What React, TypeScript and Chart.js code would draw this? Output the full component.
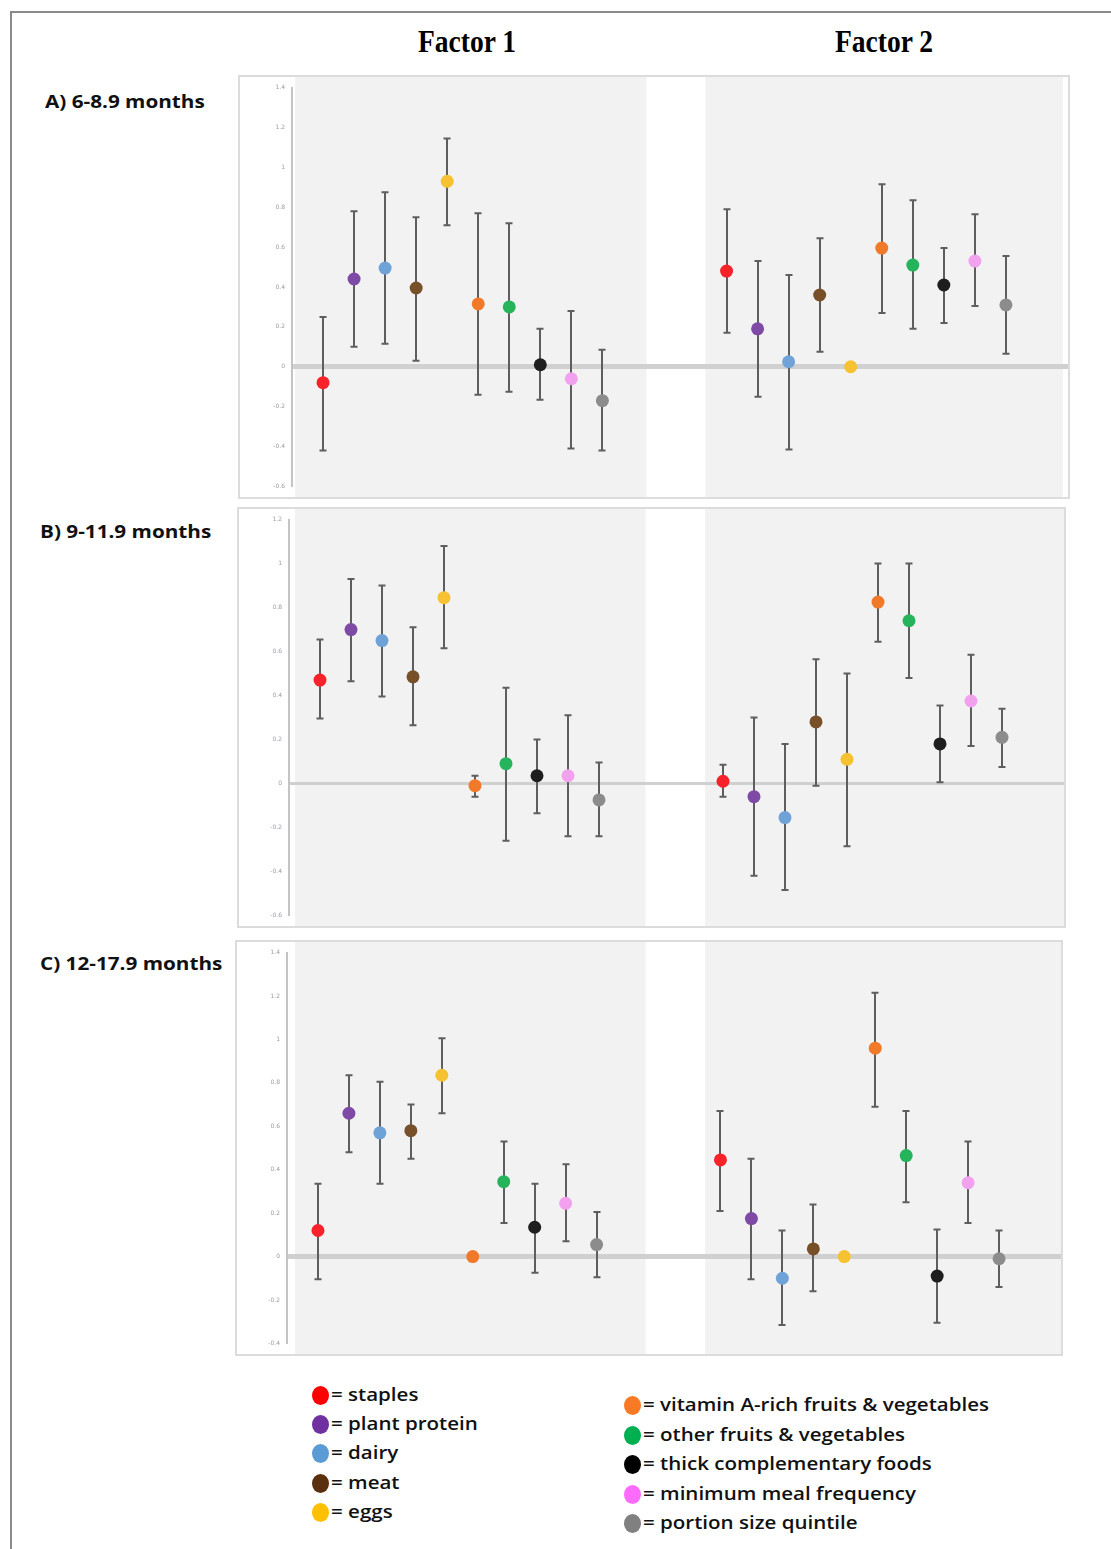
import React, { useEffect, useRef } from 'react';
import { Chart, registerables } from 'chart.js';

Chart.register(...registerables);

// ---------- data ----------
const categories = [
  'staples',
  'plant protein',
  'dairy',
  'meat',
  'eggs',
  'vitamin A-rich fruits & vegetables',
  'other fruits & vegetables',
  'thick complementary foods',
  'minimum meal frequency',
  'portion size quintile',
];
const pointColors = ['#f8232a', '#7f4aa6', '#6fa3d8', '#77502a', '#f6c231', '#f07a2a', '#25b35c', '#1e1e1e', '#f2a1ee', '#8c8c8c'];
const legendColors = ['#ff0000', '#7030a0', '#5b9bd5', '#5a300e', '#ffc000', '#f97a24', '#00b050', '#000000', '#ff6bff', '#808080'];
const factorTitles = ['Factor 1', 'Factor 2'];
const panelLabels = ['A) 6-8.9 months', 'B) 9-11.9 months', 'C) 12-17.9 months'];

const ticksA = [1.4, 1.2, 1, 0.8, 0.6, 0.4, 0.2, 0, -0.2, -0.4, -0.6];
const ticksB = [1.2, 1, 0.8, 0.6, 0.4, 0.2, 0, -0.2, -0.4, -0.6];
const ticksC = [1.4, 1.2, 1, 0.8, 0.6, 0.4, 0.2, 0, -0.2, -0.4];

// Panel A (6-8.9 months)
const aF1Mean = [-0.08, 0.44, 0.495, 0.395, 0.93, 0.315, 0.3, 0.01, -0.06, -0.17];
const aF1Low = [-0.42, 0.1, 0.115, 0.03, 0.71, -0.14, -0.125, -0.165, -0.41, -0.42];
const aF1High = [0.25, 0.78, 0.875, 0.75, 1.145, 0.77, 0.72, 0.19, 0.28, 0.085];
const aF2Mean = [0.48, 0.19, 0.025, 0.36, 0, 0.595, 0.51, 0.41, 0.53, 0.31];
const aF2Low = [0.17, -0.15, -0.415, 0.075, 0, 0.27, 0.19, 0.22, 0.305, 0.065];
const aF2High = [0.79, 0.53, 0.46, 0.645, 0, 0.915, 0.835, 0.595, 0.765, 0.555];

// Panel B (9-11.9 months)
const bF1Mean = [0.47, 0.7, 0.65, 0.485, 0.845, -0.01, 0.09, 0.035, 0.035, -0.075];
const bF1Low = [0.295, 0.465, 0.395, 0.265, 0.615, -0.06, -0.26, -0.135, -0.24, -0.24];
const bF1High = [0.655, 0.93, 0.9, 0.71, 1.08, 0.035, 0.435, 0.2, 0.31, 0.095];
const bF2Mean = [0.01, -0.06, -0.155, 0.28, 0.11, 0.825, 0.74, 0.18, 0.375, 0.21];
const bF2Low = [-0.06, -0.42, -0.485, -0.01, -0.285, 0.645, 0.48, 0.005, 0.17, 0.075];
const bF2High = [0.085, 0.3, 0.18, 0.565, 0.5, 1.0, 1.0, 0.355, 0.585, 0.34];

// Panel C (12-17.9 months)
const cF1Mean = [0.12, 0.66, 0.57, 0.58, 0.835, 0, 0.345, 0.135, 0.245, 0.055];
const cF1Low = [-0.105, 0.48, 0.335, 0.45, 0.66, 0, 0.155, -0.075, 0.07, -0.095];
const cF1High = [0.335, 0.835, 0.805, 0.7, 1.005, 0, 0.53, 0.335, 0.425, 0.205];
const cF2Mean = [0.445, 0.175, -0.1, 0.035, 0, 0.96, 0.465, -0.09, 0.34, -0.01];
const cF2Low = [0.21, -0.105, -0.315, -0.16, 0, 0.69, 0.25, -0.305, 0.155, -0.14];
const cF2High = [0.67, 0.45, 0.12, 0.24, 0, 1.215, 0.67, 0.125, 0.53, 0.12];

const panels = [
  { label: panelLabels[0], ticks: ticksA, factors: [
    { mean: aF1Mean, low: aF1Low, high: aF1High },
    { mean: aF2Mean, low: aF2Low, high: aF2High },
  ] },
  { label: panelLabels[1], ticks: ticksB, factors: [
    { mean: bF1Mean, low: bF1Low, high: bF1High },
    { mean: bF2Mean, low: bF2Low, high: bF2High },
  ] },
  { label: panelLabels[2], ticks: ticksC, factors: [
    { mean: cF1Mean, low: cF1Low, high: cF1High },
    { mean: cF2Mean, low: cF2Low, high: cF2High },
  ] },
];

// ---------- layout (positions / styles) ----------
const FACTOR_X0 = [0, 13];
const X_MIN = -1;
const X_MAX = 24;

const geoms = [
  { box: { left: 238, top: 75, width: 832, height: 424 }, canvas: { left: 240, top: 77, w: 828, h: 420 },
    axisW: 52, padTop: 7, padBottom: 9, zeroW: 5, bands: [[-0.9, 10.42], [12.32, 23.84]], labelTop: 90 },
  { box: { left: 237, top: 507, width: 829, height: 421 }, canvas: { left: 239, top: 509, w: 825, h: 417 },
    axisW: 50, padTop: 7.7, padBottom: 9.3, zeroW: 3, bands: [[-0.81, 10.5], [12.42, 24]], labelTop: 520 },
  { box: { left: 235, top: 940, width: 828, height: 416 }, canvas: { left: 237, top: 942, w: 824, h: 412 },
    axisW: 50, padTop: 7, padBottom: 8.7, zeroW: 5, bands: [[-0.74, 10.58], [12.5, 24]], labelTop: 952 },
];

function PanelChart({ panel, geom }: { panel: any; geom: any }) {
  const ref = useRef<HTMLCanvasElement>(null);
  useEffect(() => {
    const canvas = ref.current;
    if (!canvas) return;
    const points: { x: number; y: number }[] = [];
    const colors: string[] = [];
    const lows: number[] = [];
    const highs: number[] = [];
    panel.factors.forEach((f: any, fi: number) => {
      f.mean.forEach((m: number, i: number) => {
        points.push({ x: FACTOR_X0[fi] + i, y: m });
        colors.push(pointColors[i]);
        lows.push(f.low[i]);
        highs.push(f.high[i]);
      });
    });
    const ticks: number[] = panel.ticks;
    const yMax = Math.max(...ticks);
    const yMin = Math.min(...ticks);

    const bgPlugin = {
      id: 'bgBands',
      beforeDraw(chart: any) {
        const { ctx } = chart;
        const x = chart.scales.x;
        ctx.save();
        ctx.fillStyle = '#f2f2f2';
        geom.bands.forEach(([a, b]: number[]) => {
          const x1 = x.getPixelForValue(a);
          const x2 = x.getPixelForValue(b);
          ctx.fillRect(x1, 0, x2 - x1, chart.height);
        });
        ctx.restore();
      },
    };
    const errPlugin = {
      id: 'errBars',
      beforeDatasetsDraw(chart: any) {
        const { ctx } = chart;
        const xs = chart.scales.x;
        const ys = chart.scales.y;
        ctx.save();
        ctx.strokeStyle = '#5e5e5e';
        ctx.lineWidth = 2;
        points.forEach((p, i) => {
          if (lows[i] === highs[i]) return;
          const px = Math.round(xs.getPixelForValue(p.x));
          const yl = ys.getPixelForValue(lows[i]);
          const yh = ys.getPixelForValue(highs[i]);
          ctx.beginPath();
          ctx.moveTo(px, yl);
          ctx.lineTo(px, yh);
          ctx.moveTo(px - 3.5, yl);
          ctx.lineTo(px + 3.5, yl);
          ctx.moveTo(px - 3.5, yh);
          ctx.lineTo(px + 3.5, yh);
          ctx.stroke();
        });
        ctx.restore();
      },
    };

    const chart = new Chart(canvas, {
      type: 'scatter',
      data: {
        datasets: [
          {
            data: points,
            pointBackgroundColor: colors,
            pointBorderColor: colors,
            pointBorderWidth: 0,
            pointRadius: 6.5,
            pointHoverRadius: 6.5,
          },
        ],
      },
      options: {
        animation: false,
        responsive: false,
        maintainAspectRatio: false,
        devicePixelRatio: 1,
        events: [],
        layout: { autoPadding: false, padding: { top: geom.padTop, bottom: geom.padBottom, left: 0, right: 0 } },
        plugins: { legend: { display: false }, tooltip: { enabled: false } },
        scales: {
          x: { type: 'linear', min: X_MIN, max: X_MAX, display: false },
          y: {
            type: 'linear',
            min: yMin,
            max: yMax,
            afterFit: (s: any) => {
              s.width = geom.axisW;
            },
            ticks: {
              stepSize: 0.2,
              padding: 7,
              color: '#9a9aa6',
              font: { size: 6, family: 'DejaVu Sans' },
              callback: (v: any) => {
                const r = Math.round(Number(v) * 10) / 10;
                return ticks.includes(r) ? String(r) : '';
              },
            },
            grid: {
              drawTicks: false,
              color: (c: any) => (c.tick && Math.abs(c.tick.value) < 1e-9 ? '#d0d0d0' : 'rgba(0,0,0,0)'),
              lineWidth: (c: any) => (c.tick && Math.abs(c.tick.value) < 1e-9 ? geom.zeroW : 1),
            },
            border: { display: true, color: '#c4c4c4', width: 2 },
          },
        },
      },
      plugins: [bgPlugin, errPlugin],
    } as any);
    return () => chart.destroy();
  }, [panel, geom]);
  const c = geom.canvas;
  return (
    <canvas
      ref={ref}
      width={c.w}
      height={c.h}
      style={{ position: 'absolute', left: c.left, top: c.top, width: c.w, height: c.h }}
    />
  );
}

const labelFont = '"Open Sans", "DejaVu Sans", sans-serif';

export default function App() {
  const leftLegend = [0, 1, 2, 3, 4];
  const rightLegend = [5, 6, 7, 8, 9];
  const leftY = [1395, 1424, 1453, 1483, 1512];
  const rightY = [1405, 1435, 1464, 1494, 1523];
  return (
    <div style={{ position: 'absolute', left: 0, top: 0, width: 1111, height: 1549, overflow: 'hidden', background: '#fff' }}>
      {/* outer frame */}
      <div style={{ position: 'absolute', left: 10, top: 11, width: 1110, height: 1560, borderLeft: '2px solid #8a8a8a', borderTop: '2px solid #8a8a8a' }} />

      {/* factor titles */}
      {factorTitles.map((t, i) => (
        <div
          key={t}
          style={{
            position: 'absolute',
            left: i === 0 ? 367 : 784,
            width: 200,
            top: 22,
            textAlign: 'center',
            fontFamily: '"Liberation Serif", "Times New Roman", serif',
            fontWeight: 700,
            fontSize: 32,
            lineHeight: '38px',
            transform: 'scaleX(0.86)',
            color: '#000',
          }}
        >
          {t}
        </div>
      ))}

      {panels.map((p, i) => (
        <React.Fragment key={p.label}>
          <div
            style={{
              position: 'absolute',
              left: i === 0 ? 45 : 40,
              top: geoms[i].labelTop,
              fontFamily: labelFont,
              fontWeight: 700,
              fontSize: 18,
              lineHeight: '22px',
              whiteSpace: 'nowrap',
              transform: 'scaleX(1.15)',
              transformOrigin: 'left center',
              color: '#111',
            }}
          >
            {p.label}
          </div>
          <div
            style={{
              position: 'absolute',
              left: geoms[i].box.left,
              top: geoms[i].box.top,
              width: geoms[i].box.width,
              height: geoms[i].box.height,
              boxSizing: 'border-box',
              border: '2px solid #dcdcdc',
              background: '#fff',
            }}
          />
          <PanelChart panel={p} geom={geoms[i]} />
        </React.Fragment>
      ))}

      {/* legend */}
      {[...leftLegend.map((ci, k) => ({ ci, x: 320, y: leftY[k] })), ...rightLegend.map((ci, k) => ({ ci, x: 632, y: rightY[k] }))].map(
        ({ ci, x, y }) => (
          <React.Fragment key={categories[ci]}>
            <div
              style={{
                position: 'absolute',
                left: x - 8.5,
                top: y - 9.5,
                width: 17,
                height: 19,
                borderRadius: '50%',
                background: legendColors[ci],
              }}
            />
            <div
              style={{
                position: 'absolute',
                left: x + 11,
                top: y - 13,
                fontFamily: labelFont,
                fontWeight: 600,
                fontSize: 18,
                lineHeight: '24px',
                whiteSpace: 'nowrap',
                transform: 'scaleX(1.14)',
                transformOrigin: 'left center',
                color: '#111',
              }}
            >
              {'= ' + categories[ci]}
            </div>
          </React.Fragment>
        )
      )}
    </div>
  );
}
